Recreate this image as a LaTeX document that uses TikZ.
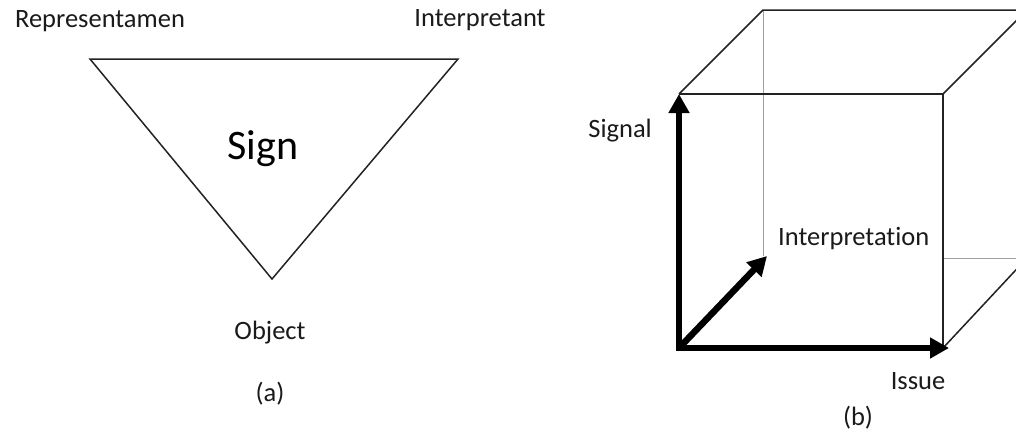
\documentclass[tikz,border=0pt]{standalone}
\usepackage{fontspec}
\setmainfont{Carlito}[Ligatures={NoCommon}]
\usetikzlibrary{arrows.meta}
\definecolor{ink}{HTML}{1A1A1A}
\definecolor{edgegray}{HTML}{222222}
\definecolor{hidgray}{HTML}{A0A0A0}

\begin{document}
\begin{tikzpicture}[x=1pt, y=-1pt, >={Triangle[length=19pt, width=20pt]},
  lbl/.style={text=ink, font=\fontsize{26.5}{31}\selectfont, inner sep=0pt},
  edge/.style={edgegray, line width=1.5pt},
  hidden/.style={hidgray, line width=1pt},
  axis/.style={black, line width=6.5pt, ->}]

\useasboundingbox (0,0) rectangle (1016,432);

% (a) Triangle
\coordinate (rep) at (90,59);
\coordinate (int) at (458,59);
\coordinate (obj) at (272,279);
\draw[edge, line join=miter] (rep) -- (int) -- (obj) -- cycle;

\node[lbl] (replbl) at (100,21) {Representamen};
\node[lbl] (intlbl) at (480,20) {Interpretant};
\node[text=black, font=\fontsize{42}{50}\selectfont, inner sep=0pt] (sign) at (263,149) {Sign};
\node[lbl] (objlbl) at (270,333) {Object};
\node[lbl] (capa) at (270,394) {(a)};

% (b) Cube, front face
\coordinate (f1) at (679,94);
\coordinate (f2) at (943,94);
\coordinate (f3) at (943,348);
\coordinate (f4) at (679,348);
% back face
\coordinate (b1) at (763,10);
\coordinate (b2) at (1027,10);
\coordinate (b3) at (1027,258);
\coordinate (b4) at (767,256);
\coordinate (h1) at (943,258);

\begin{scope}
\clip (0,0) rectangle (1016,432);
% hidden edges
\draw[hidden] (b1) -- (b1 |- b4);
\draw[hidden] (h1) -- (b3);
% visible edges
\draw[edge] (f1) -- (f2) -- (f3);
\draw[edge] (f1) -- (b1) -- (b2) -- (b3);
\draw[edge] (f2) -- (b2);
\draw[edge] (f3) -- (b3);
\end{scope}

% Axes
\draw[axis] (f4) -- (f1);
\draw[axis] (f4) -- ([xshift=6pt]f3);
\draw[axis] (f4) -- (b4);
\fill[black] ([xshift=-3.25pt, yshift=-3.25pt]f4) rectangle ([xshift=3.25pt, yshift=3.25pt]f4);

\node[lbl, anchor=east] (siglbl) at (652,131) {Signal};
\node[lbl, anchor=west] (interlbl) at (778,239) {Interpretation};
\node[lbl] (isslbl) at (918,381) {Issue};
\node[lbl] (capb) at (858,418) {(b)};

\end{tikzpicture}
\end{document}
